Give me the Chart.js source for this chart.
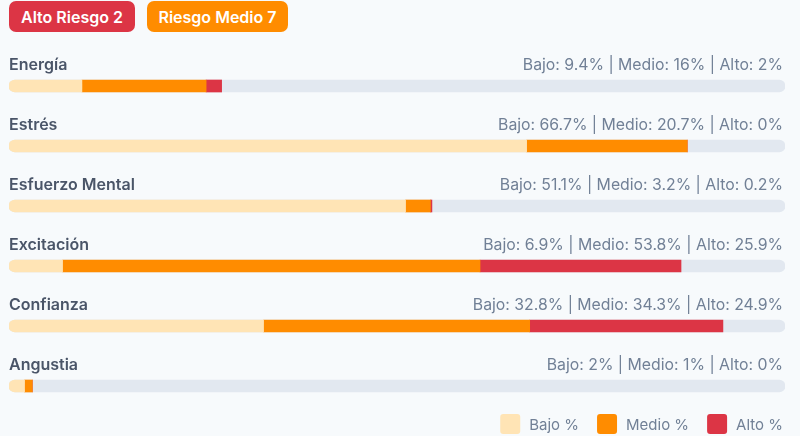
<!DOCTYPE html>
<html lang="es">
<head>
<meta charset="utf-8">
<title>Riesgo por dimensión</title>
<script src="https://cdn.jsdelivr.net/npm/chart.js@4.4.1/dist/chart.umd.min.js"></script>
<style>
  html, body { margin: 0; padding: 0; background: #f7fafc; }
  body { font-family: Inter, sans-serif; }
  .wrap { position: relative; width: 800px; height: 436px; }
  .badges { position: absolute; left: 9px; top: 1px; display: flex; gap: 12px; z-index: 2; }
  .badge {
    height: 31px; border-radius: 7px;
    display: flex; align-items: center; justify-content: center;
    color: #fff; font-weight: 600; font-size: 16px;
  }
  .badge.alto { background: #dc3545; width: 126px; }
  .badge.medio { background: #ff8c00; width: 141px; }
</style>
</head>
<body>
<div class="wrap">
  <div class="badges">
    <div class="badge alto">Alto Riesgo 2</div>
    <div class="badge medio">Riesgo Medio 7</div>
  </div>
  <canvas id="riskChart"></canvas>
</div>
<script>
// Dimensiones y porcentajes por nivel de riesgo
const categories = ['Energía', 'Estrés', 'Esfuerzo Mental', 'Excitación', 'Confianza', 'Angustia'];
const bajo  = [9.4, 66.7, 51.1, 6.9, 32.8, 2];
const medio = [16, 20.7, 3.2, 53.8, 34.3, 1];
const alto  = [2, 0, 0.2, 25.9, 24.9, 0];
const trackMax = 100;

const COLORS = {
  bajo: '#ffe4b5',
  medio: '#ff8c00',
  alto: '#dc3545',
  track: '#e2e8f0',
  label: '#4a5568',
  muted: '#718096'
};

const FONT = 'Inter, sans-serif';

// Row titles and "Bajo | Medio | Alto" summary above each bar
const rowTextPlugin = {
  id: 'rowText',
  afterDatasetsDraw(chart) {
    const { ctx, chartArea, scales: { y } } = chart;
    ctx.save();
    ctx.textBaseline = 'alphabetic';
    categories.forEach((name, i) => {
      const base = y.getPixelForValue(i) - 16;
      ctx.font = `600 16px ${FONT}`;
      ctx.fillStyle = COLORS.label;
      ctx.textAlign = 'left';
      ctx.fillText(name, chartArea.left, base);

      ctx.font = `400 15.8px ${FONT}`;
      ctx.fillStyle = COLORS.muted;
      ctx.textAlign = 'right';
      const txt = `Bajo: ${bajo[i]}% | Medio: ${medio[i]}% | Alto: ${alto[i]}%`;
      ctx.fillText(txt, chartArea.right - 2, base);
    });
    ctx.restore();
  }
};

// Legend at the bottom right, built from the visible datasets
const legendPlugin = {
  id: 'rowLegend',
  afterDraw(chart) {
    const { ctx, chartArea } = chart;
    const items = chart.data.datasets.filter(d => d.label !== 'track');
    const box = 20, textGap = 9, itemGap = 18, cy = 424;
    ctx.save();
    ctx.font = `400 15px ${FONT}`;
    ctx.textBaseline = 'middle';
    ctx.textAlign = 'left';
    let x = chartArea.right - 2;
    for (let i = items.length - 1; i >= 0; i--) {
      const it = items[i];
      const w = ctx.measureText(it.label).width;
      x -= w;
      ctx.fillStyle = COLORS.muted;
      ctx.fillText(it.label, x, cy + 1);
      x -= textGap + box;
      ctx.fillStyle = it.backgroundColor;
      ctx.beginPath();
      ctx.roundRect(x, cy - box / 2, box, box, 3);
      ctx.fill();
      x -= itemGap;
    }
    ctx.restore();
  }
};

new Chart(document.getElementById('riskChart'), {
  type: 'bar',
  data: {
    labels: categories,
    datasets: [
      {
        label: 'Bajo %',
        data: bajo,
        backgroundColor: COLORS.bajo,
        stack: 'risk',
        borderRadius: { topLeft: 6, bottomLeft: 6 },
        order: 0
      },
      {
        label: 'Medio %',
        data: medio,
        backgroundColor: COLORS.medio,
        stack: 'risk',
        borderRadius: 0,
        order: 0
      },
      {
        label: 'Alto %',
        data: alto,
        backgroundColor: COLORS.alto,
        stack: 'risk',
        borderRadius: 0,
        order: 0
      },
      {
        label: 'track',
        data: categories.map(() => trackMax),
        backgroundColor: COLORS.track,
        stack: 'track',
        borderRadius: 6,
        order: 1
      }
    ]
  },
  options: {
    indexAxis: 'y',
    responsive: true,
    maintainAspectRatio: false,
    animation: false,
    datasets: {
      bar: { grouped: false, barThickness: 12, borderSkipped: false, borderWidth: 0 }
    },
    layout: { padding: { top: 56, bottom: 20, left: 9, right: 15 } },
    plugins: {
      legend: { display: false },
      tooltip: { enabled: false }
    },
    scales: {
      x: { stacked: true, min: 0, max: trackMax, display: false },
      y: { stacked: true, display: false }
    }
  },
  plugins: [rowTextPlugin, legendPlugin]
});
</script>
</body>
</html>
